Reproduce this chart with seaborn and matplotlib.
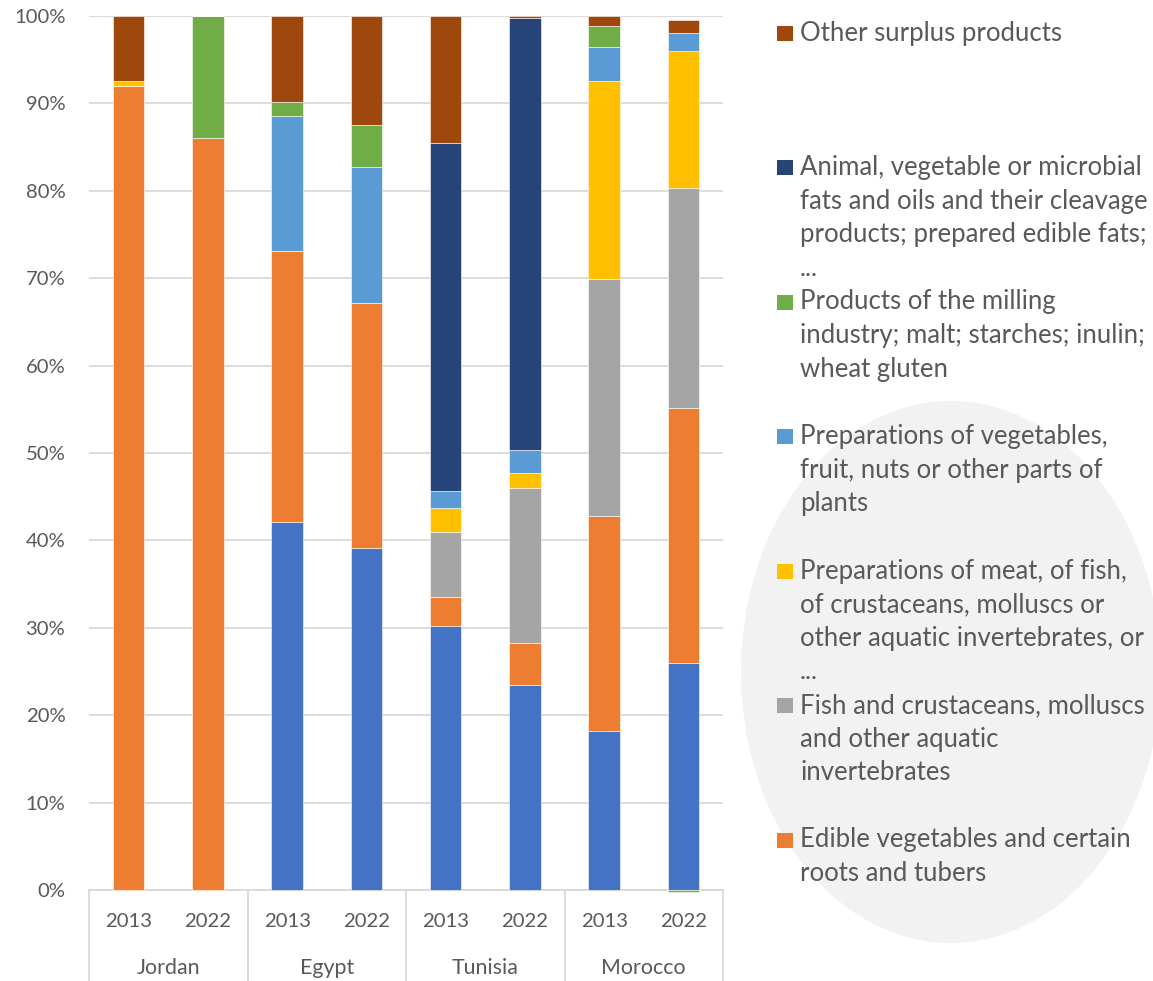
import numpy as np
import pandas as pd
import matplotlib
matplotlib.use("Agg")
import matplotlib.pyplot as plt
from matplotlib.patches import Ellipse, Rectangle
import seaborn as sns

# ---- data (shares of total, %) ----
countries = ["Jordan", "Egypt", "Tunisia", "Morocco"]
years = ["2013", "2022"]

# stacking order, bottom to top
series_names = [
    "Edible fruit and nuts; peel of citrus fruit or melons",
    "Edible vegetables and certain\nroots and tubers",
    "Fish and crustaceans, molluscs\nand other aquatic\ninvertebrates",
    "Preparations of meat, of fish,\nof crustaceans, molluscs or\nother aquatic invertebrates, or\n...",
    "Preparations of vegetables,\nfruit, nuts or other parts of\nplants",
    "Products of the milling\nindustry; malt; starches; inulin;\nwheat gluten",
    "Animal, vegetable or microbial\nfats and oils and their cleavage\nproducts; prepared edible fats;\n...",
    "Other surplus products",
]
in_legend = [False, True, True, True, True, True, True, True]

# values per bar: Jordan 2013, Jordan 2022, Egypt 2013, Egypt 2022,
# Tunisia 2013, Tunisia 2022, Morocco 2013, Morocco 2022
fruit_nuts   = [0.0,  0.0,  42.1, 39.1, 30.2, 23.5, 18.2, 26.0]
vegetables   = [92.0, 86.0, 31.0, 28.1, 3.3,  4.8,  24.6, 29.2]
fish         = [0.0,  0.0,  0.0,  0.0,  7.5,  17.7, 27.1, 25.1]
meat_preps   = [0.6,  0.0,  0.0,  0.0,  2.7,  1.7,  22.7, 15.7]
veg_preps    = [0.0,  0.0,  15.5, 15.5, 2.0,  2.6,  3.9,  2.0]
milling      = [0.0,  14.0, 1.6,  4.8,  0.0,  0.0,  2.3,  -0.2]
fats_oils    = [0.0,  0.0,  0.0,  0.0,  39.8, 49.5, 0.0,  0.0]
other        = [7.4,  0.0,  9.8,  12.5, 14.5, 0.2,  1.2,  1.5]

series_values = [fruit_nuts, vegetables, fish, meat_preps,
                 veg_preps, milling, fats_oils, other]
series_colors = ["#4472C4", "#ED7D31", "#A5A5A5", "#FFC000",
                 "#5B9BD5", "#70AD47", "#264478", "#9E480E"]

bar_labels = [f"{c} {y}" for c in countries for y in years]

# ---- style ----
sns.set_theme(style="white")
plt.rcParams["font.family"] = ["Lato", "DejaVu Sans"]
TXT = "#595959"
GRID = "#D9D9D9"

W, H = 1153, 981
fig = plt.figure(figsize=(W / 100, H / 100), dpi=100)
fig.patch.set_facecolor("white")

# soft grey backdrop behind the lower legend entries
fig.add_artist(Ellipse((951 / W, 1 - 672 / H), 420 / W, 542 / H,
                       transform=fig.transFigure, facecolor="#F2F2F2",
                       edgecolor="none", zorder=0))

ax = fig.add_axes([89 / W, 1 - 890 / H, (723 - 89) / W, (890 - 16) / H])
ax.patch.set_alpha(0)

# ---- stacked bars (negatives stack downward from zero) ----
pos_base = np.zeros(len(bar_labels))
neg_base = np.zeros(len(bar_labels))
for name, vals, col in zip(series_names, series_values, series_colors):
    vals = np.asarray(vals, dtype=float)
    bottoms = np.where(vals >= 0, pos_base, neg_base)
    df = pd.DataFrame({"bar": bar_labels, "share": vals})
    sns.barplot(data=df, x="bar", y="share", order=bar_labels, color=col,
                saturation=1, width=0.4, bottom=bottoms, ax=ax,
                edgecolor="white", linewidth=0.4, clip_on=False, zorder=2)
    pos_base += np.clip(vals, 0, None)
    neg_base += np.clip(vals, None, 0)

# ---- axes styling ----
ax.set_xlim(-0.5, len(bar_labels) - 0.5)
ax.set_ylim(0, 100)
ax.set_yticks(np.arange(0, 101, 10))
ax.set_yticklabels([f"{v}%" for v in range(0, 101, 10)])
ax.tick_params(axis="y", length=0, pad=17, labelsize=14.6, labelcolor=TXT)
ax.set_xticks([])
ax.set_xlabel("")
ax.set_ylabel("")
for s in ax.spines.values():
    s.set_visible(False)
ax.yaxis.grid(True, color=GRID, linewidth=1.3)
ax.set_axisbelow(True)

# two-level category axis
xt = ax.get_xaxis_transform()
ax.plot([-0.5, len(bar_labels) - 0.5], [0, 0], transform=xt, color=GRID,
        lw=1.3, clip_on=False, zorder=1)
for b in np.arange(-0.5, len(bar_labels), 2):
    ax.plot([b, b], [0, -0.11], transform=xt, color=GRID, lw=1.3,
            clip_on=False)
for i, lab in enumerate(bar_labels):
    ax.text(i, -0.0366, lab.split()[1], transform=xt, ha="center",
            va="center", fontsize=14.6, color=TXT)
for j, c in enumerate(countries):
    ax.text(2 * j + 0.5, -0.0895, c, transform=xt, ha="center",
            va="center", fontsize=15.4, color=TXT)

# ---- legend (top entry = top of stack) ----
legend_items = [(n, c) for n, c, show in
                zip(series_names, series_colors, in_legend) if show][::-1]
entry_step, line_step = 134.5, 33.6
for k, (name, col) in enumerate(legend_items):
    y0 = 33 + entry_step * k
    fig.add_artist(Rectangle((777 / W, 1 - (y0 + 7.5) / H), 16 / W, 15 / H,
                             transform=fig.transFigure, facecolor=col,
                             edgecolor="none"))
    for m, line in enumerate(name.split("\n")):
        fig.text(800 / W, 1 - (y0 + m * line_step) / H, line, ha="left",
                 va="center", fontsize=18.5, color=TXT)

fig.savefig("out.png", dpi=100)
